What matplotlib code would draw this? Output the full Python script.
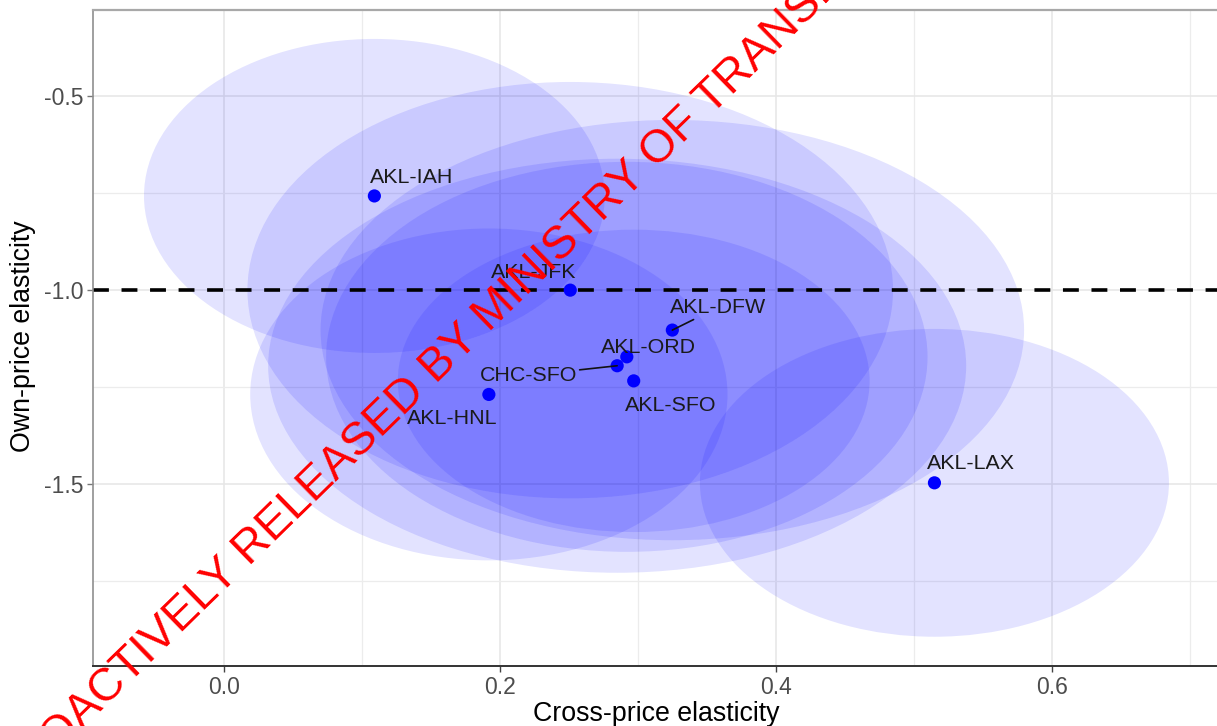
import matplotlib
matplotlib.use("Agg")
import matplotlib.pyplot as plt
from matplotlib.patches import Ellipse

plt.rcParams["font.family"] = ["Liberation Sans", "DejaVu Sans"]

# Route estimates: cross-price and own-price elasticities
routes = ["AKL-IAH", "AKL-JFK", "AKL-DFW", "AKL-ORD",
          "CHC-SFO", "AKL-SFO", "AKL-HNL", "AKL-LAX"]
cross = [0.109, 0.251, 0.325, 0.292, 0.285, 0.297, 0.192, 0.515]
own = [-0.757, -1.000, -1.103, -1.172, -1.195, -1.234, -1.269, -1.497]

# Confidence half-widths for each estimate (ellipse semi-axes)
cross_ci = [0.167, 0.234, 0.255, 0.218, 0.253, 0.171, 0.173, 0.170]
own_ci = [0.405, 0.537, 0.542, 0.503, 0.534, 0.390, 0.428, 0.397]

reference_own = -1.0

x_ticks = [0.0, 0.2, 0.4, 0.6]
x_tick_labels = ["0.0", "0.2", "0.4", "0.6"]
y_ticks = [-1.5, -1.0, -0.5]
y_tick_labels = ["-1.5", "-1.0", "-0.5"]

# Label placement (pixels right / down from each point) and leader-line flags
label_dx = [37.5, -37, 46, 22, -89, 36.5, -37, 37]
label_dy = [-20.5, -19.5, -25, -12, 7.5, 22, 22, -22]
label_leader = [False, False, True, False, True, False, False, False]

W, H = 1217, 726
fig = plt.figure(figsize=(W / 100, H / 100), dpi=100)
ax = fig.add_axes([92.7 / W, (H - 665.7) / H, (1219 - 92.7) / W, (665.7 - 9.5) / H])
ax.set_xlim(-0.09518, 0.72128)
ax.set_ylim(-1.9687, -0.2761)

# grid
ax.set_xticks(x_ticks)
ax.set_xticklabels(x_tick_labels)
ax.set_xticks([0.1, 0.3, 0.5, 0.7], minor=True)
ax.set_yticks(y_ticks)
ax.set_yticklabels(y_tick_labels)
ax.set_yticks([-1.75, -1.25, -0.75], minor=True)
ax.set_axisbelow(True)
ax.grid(which="major", color="#e6e6e6", linewidth=1.1)
ax.grid(which="minor", color="#ececec", linewidth=0.9)
ax.tick_params(which="minor", length=0)
ax.tick_params(axis="x", which="major", length=4.5, width=1.0, color="#444444",
               labelsize=16.5, labelcolor="#4d4d4d", pad=3)
ax.tick_params(axis="y", which="major", length=4.5, width=1.0, color="#777777",
               labelsize=16.5, labelcolor="#4d4d4d", pad=2)

ax.spines["top"].set_color("#a8a8a8")
ax.spines["top"].set_linewidth(1.6)
ax.spines["left"].set_color("#8f8f8f")
ax.spines["left"].set_linewidth(1.2)
ax.spines["bottom"].set_color("#333333")
ax.spines["bottom"].set_linewidth(1.4)
ax.spines["right"].set_visible(False)

# confidence ellipses
for cx, cy, wx, wy in zip(cross, own, cross_ci, own_ci):
    ax.add_patch(Ellipse((cx, cy), 2 * wx, 2 * wy, facecolor="blue",
                         edgecolor="none", alpha=0.11, zorder=1))

# unit elasticity reference line
ax.axhline(reference_own, color="black", linewidth=2.6,
           linestyle=(0, (4.4, 3.5)), zorder=2)

# point estimates
ax.scatter(cross, own, s=90, color="#0000ff", edgecolors="none", zorder=4)

# route labels
cap_half = 7.7
for name, cx, cy, dx, dy, lead in zip(routes, cross, own, label_dx, label_dy, label_leader):
    kw = {}
    if lead:
        kw["arrowprops"] = dict(arrowstyle="-", color="#111111", lw=1.2,
                                shrinkA=0, shrinkB=0)
    ax.annotate(name, (cx, cy), xytext=(dx, -(dy + cap_half)),
                textcoords="offset pixels", ha="center", va="baseline",
                fontsize=15.4, color="#1a1a1a", zorder=5, **kw)

# axis titles
fig.text(656 / W, 1 - 721 / H, "Cross-price elasticity", ha="center",
         va="baseline", fontsize=19.3, color="black")
fig.text(23 / W, 1 - 336.5 / H, "Own-price elasticity", ha="center",
         va="center", rotation=90, fontsize=19.3, color="black")

# release stamp
fig.text(463.0 / W, 1 - 358.0 / H, "PROACTIVELY RELEASED BY MINISTRY OF TRANSPORT",
         rotation=44.3, rotation_mode="anchor", ha="center", va="baseline",
         fontsize=33.5, color="#ff0000", zorder=10)

fig.savefig("out.png", dpi=100)
